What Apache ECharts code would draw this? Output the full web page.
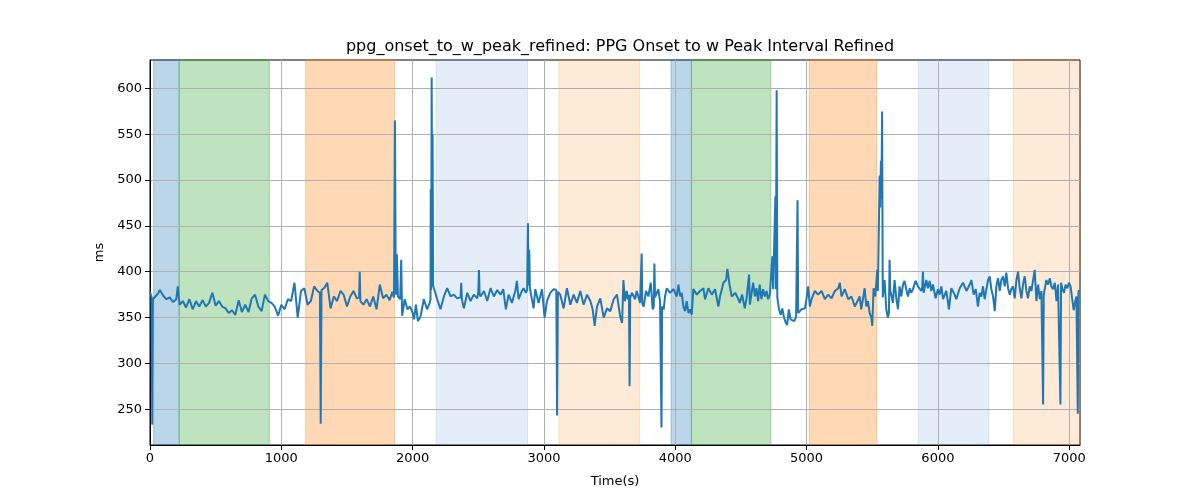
<!DOCTYPE html>
<html>
<head>
<meta charset="utf-8">
<script src="https://cdn.jsdelivr.net/npm/echarts@6/dist/echarts.min.js"></script>
<style>
  html, body { margin: 0; padding: 0; background: #fff; }
  #chart { width: 1200px; height: 500px; }
</style>
</head>
<body>
<div id="chart"></div>
<script>
// ---- data ----
const chartTitle = 'ppg_onset_to_w_peak_refined: PPG Onset to w Peak Interval Refined';
const xName = 'Time(s)';
const yName = 'ms';
const xTickValues = [0, 1000, 2000, 3000, 4000, 5000, 6000, 7000];
const yTickValues = [250, 300, 350, 400, 450, 500, 550, 600];

const times = [
  0,12,17,22,35,60,75,100,125,150,175,200,212,225,250,275,300,325,350,375,400,425,450,475,500,525,550,575,600,625,650,675,700,725,750,775,800,825,850,875,900,
  925,950,975,1000,1025,1050,1075,1100,1125,1150,1175,1200,1225,1250,1275,1294,1300,1306,1325,1350,1375,1400,1425,1450,1475,1500,1525,1550,1575,1592,1597,1602,1625,1650,1675,1700,1725,1750,1775,1800,1825,1845,1858,1865,1872,1880,1888,1905,1913,1920,
  1940,1960,1980,2000,2010,2025,2040,2060,2085,2110,2130,2136,2138,2141,2145,2149,2152,2156,2162,2187,2212,2238,2263,2289,2314,2339,2365,2370,2375,2390,2416,2441,2466,2492,2500,2505,2510,2517,2543,2568,2593,2619,2644,2670,2690,
  2710,2731,2756,2782,2794,2807,2832,2845,2862,2872,2878,2883,2888,2893,2905,2921,2934,2959,2985,3005,3023,3048,3074,3088,3094,3100,3106,3124,3150,3175,3201,3226,3251,3277,3302,3328,3353,3371,3386,3404,3429,3455,3480,3505,3531,3556,3582,
  3595,3605,3617,3630,3640,3647,3652,3657,3670,3694,3706,3719,3732,3739,3744,3749,3760,3777,3795,3813,3828,3836,3841,3846,3858,3871,3884,3890,3895,3900,3912,3922,3935,3960,3986,4011,4024,4037,4049,4062,4075,4087,4100,4113,4125,4138,4164,4189,4214,4227,4252,4278,4303,4328,4341,4367,4387,4397,4413,4430,4456,4481,
  4491,4509,4529,4542,4556,4562,4568,4580,4593,4606,4618,4631,4643,4656,4669,4682,4695,4707,4720,4730,4735,4740,4745,4756,4762,4766,4772,4777,4790,4803,4815,4828,4840,4852,4865,4878,4893,4906,4920,4926,4931,4936,4950,4961,4987,4999,5012,5025,5038,5063,5088,5114,5139,5165,5190,5215,5241,5253,5266,5291,5317,5342,5367,5388,
  5404,5416,5429,5442,5455,5467,5480,5493,5500,5510,5523,5533,5538,5543,5552,5556,5560,5566,5570,5575,5580,5594,5607,5619,5627,5632,5637,5645,5657,5670,5683,5696,5708,5721,5734,5746,5759,5772,5785,5797,5810,5830,5848,5861,5874,5881,5886,5891,5899,5912,5924,5937,5950,5962,5983,6000,6013,6026,6039,6064,6084,6102,6128,6140,6166,6191,6217,6242,6255,6272,6288,
  6305,6318,6331,6343,6356,6369,6382,6394,6407,6420,6433,6445,6458,6471,6483,6496,6509,6521,6534,6547,6559,6572,6585,6598,6610,6623,6636,6648,6661,6674,6686,6699,6712,6725,6737,6750,6763,6776,6788,6796,6801,6806,6814,6826,6839,6852,6864,6877,6890,6903,6915,6928,6933,6938,6948,6960,6972,6985,6998,7010,7022,7034,7046,7055,7060,7065,7070,7076
];

const values = [
  378,372,233,370,372,376,380,374,370,372,367,370,384,364,368,361,370,359,368,362,369,362,366,377,363,368,362,360,355,358,353,369,356,364,356,371,375,362,357,375,368,
  366,362,352,364,359,370,368,388,350,379,382,364,368,384,379,377,234,380,382,388,360,373,368,379,375,362,373,379,371,372,400,368,364,370,362,373,359,386,371,375,369,378,372,565,375,419,373,370,413,352,
  370,359,362,355,348,364,346,351,370,359,366,370,490,380,612,420,550,385,382,370,359,373,382,373,375,371,372,388,370,360,377,368,375,371,378,402,376,373,379,368,382,373,380,375,381,
  359,375,366,379,390,370,379,382,377,380,453,385,424,382,384,360,381,366,381,350,368,377,381,382,380,243,378,375,360,382,364,375,366,379,364,375,368,359,341,362,371,350,360,357,370,375,350,
  344,391,368,379,370,375,275,372,377,370,379,373,366,368,420,365,362,379,373,388,359,362,409,372,373,381,368,370,230,362,359,373,382,377,381,373,386,373,377,362,357,368,355,359,353,381,375,379,382,370,382,375,381,362,373,388,391,403,386,373,377,370,
  366,375,360,370,372,397,364,362,388,373,382,368,386,370,381,373,379,370,375,377,375,417,381,380,482,381,598,372,359,353,360,350,345,342,359,348,350,346,351,350,478,355,357,359,360,370,384,362,370,379,375,379,370,375,371,379,382,388,373,381,370,373,362,368,
  373,359,370,382,362,368,355,350,341,382,373,375,402,379,380,505,470,521,480,575,372,391,359,350,355,413,380,381,366,391,371,359,384,373,386,390,381,373,382,377,381,390,384,386,379,383,400,377,377,391,382,390,379,386,371,381,375,384,370,379,359,382,375,370,382,388,379,386,391,375,381,
  362,377,373,384,370,381,391,395,381,373,357,384,393,379,391,395,384,399,382,375,381,384,371,391,400,382,371,386,395,379,371,384,379,391,402,368,386,370,379,380,255,375,373,391,386,393,384,381,388,368,386,386,255,388,381,377,386,382,388,384,386,358,368,373,372,245,378,380
];

// shaded protocol phases (seconds)
const phaseStarts = [28, 222, 1186, 2179, 3114, 3968, 4123, 5022, 5851, 6575];
const phaseEnds   = [222, 909, 1862, 2876, 3729, 4123, 4728, 5536, 6389, 7082];
const phaseKinds  = ['blue', 'green', 'orange', 'paleblue', 'paleorange', 'blue', 'green', 'orange', 'paleblue', 'paleorange'];

// ---- styling ----
const kindStyle = {
  blue:       { fill: 'rgba(31,119,180,0.3)',  edge: 'rgba(31,119,180,0.35)' },
  green:      { fill: 'rgba(44,160,44,0.3)',   edge: 'rgba(44,160,44,0.35)' },
  orange:     { fill: 'rgba(255,127,14,0.3)',  edge: 'rgba(255,127,14,0.35)' },
  paleblue:   { fill: 'rgba(80,140,210,0.15)', edge: 'rgba(80,140,210,0.18)' },
  paleorange: { fill: 'rgba(255,127,14,0.16)', edge: 'rgba(255,127,14,0.2)' }
};
const FONT = 'DejaVu Sans';
const xMin = 0, xMax = 7082, yMin = 210.9, yMax = 631.1;

if (times.length !== values.length) console.error('length mismatch', times.length, values.length);
const points = times.map((t, i) => [t, values[i]]);

const areas = phaseStarts.map((s, i) => [
  { xAxis: s, itemStyle: { color: kindStyle[phaseKinds[i]].fill, borderColor: kindStyle[phaseKinds[i]].edge, borderWidth: 1 } },
  { xAxis: phaseEnds[i] }
]);

const chart = echarts.init(document.getElementById('chart'), null, { renderer: 'canvas' });
const labelStyle = { color: '#000', fontFamily: FONT, fontSize: 13 };
chart.setOption({
  animation: false,
  backgroundColor: '#fff',
  title: {
    text: chartTitle,
    left: 615, top: 34, textAlign: 'center',
    textStyle: { fontFamily: FONT, fontSize: 16, fontWeight: 'normal', color: '#000' }
  },
  grid: { left: 150, right: 120, top: 60, bottom: 55, show: true, borderColor: '#000', borderWidth: 1, backgroundColor: 'transparent', containLabel: false },
  xAxis: {
    type: 'value', min: xMin, max: xMax, z: 2,
    name: xName, nameLocation: 'middle', nameGap: 30,
    nameTextStyle: labelStyle,
    axisLine: { show: true, onZero: false, lineStyle: { color: '#000', width: 1 } },
    axisTick: { show: true, inside: false, length: 5, customValues: xTickValues, lineStyle: { color: '#000', width: 1 } },
    axisLabel: { margin: 7, customValues: xTickValues, formatter: (v) => String(v), ...labelStyle },
    splitLine: { show: true, lineStyle: { color: '#b0b0b0', width: 1 } }
  },
  yAxis: {
    type: 'value', min: yMin, max: yMax, z: 2,
    name: yName, nameLocation: 'middle', nameGap: 40,
    nameTextStyle: labelStyle,
    axisLine: { show: true, onZero: false, lineStyle: { color: '#000', width: 1 } },
    axisTick: { show: true, inside: false, length: 5, customValues: yTickValues, lineStyle: { color: '#000', width: 1 } },
    axisLabel: { margin: 8, customValues: yTickValues, formatter: (v) => String(v), ...labelStyle },
    splitLine: { show: true, lineStyle: { color: '#b0b0b0', width: 1 } }
  },
  series: [
    { type: 'line', data: [], z: 1, silent: true, markArea: { silent: true, data: areas } },
    {
      type: 'line', data: points, z: 3, showSymbol: false, symbol: 'none',
      lineStyle: { color: '#1f77b4', width: 2 }, itemStyle: { color: '#1f77b4' }
    }
  ]
});
</script>
</body>
</html>
